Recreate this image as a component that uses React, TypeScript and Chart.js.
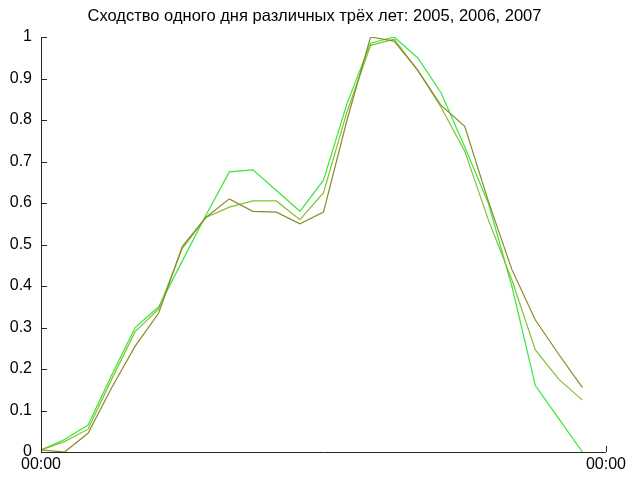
import React, { useEffect, useRef } from 'react';
import { Chart, registerables } from 'chart.js';

Chart.register(...registerables);

const TITLE = 'Сходство одного дня различных трёх лет: 2005, 2006, 2007';
const X_TICK_LABEL = '00:00';
const hours = [0, 1, 2, 3, 4, 5, 6, 7, 8, 9, 10, 11, 12, 13, 14, 15, 16, 17, 18, 19, 20, 21, 22, 23];
const xTicks = [0, 24];
const seriesNames = ['2005', '2006', '2007'];
const olive = [0.005, 0.0, 0.045, 0.155, 0.255, 0.335, 0.495, 0.565, 0.61, 0.58, 0.578, 0.55, 0.578, 0.8, 1.0, 0.99, 0.92, 0.835, 0.785, 0.605, 0.44, 0.318, 0.235, 0.155];
const medium = [0.005, 0.025, 0.055, 0.175, 0.29, 0.345, 0.49, 0.565, 0.59, 0.605, 0.605, 0.56, 0.625, 0.82, 0.98, 0.995, 0.92, 0.83, 0.725, 0.56, 0.415, 0.246, 0.175, 0.125];
const bright = [0.005, 0.03, 0.065, 0.185, 0.3, 0.35, 0.46, 0.57, 0.675, 0.68, 0.63, 0.58, 0.655, 0.84, 0.985, 1.0, 0.95, 0.865, 0.735, 0.6, 0.4, 0.16, 0.08, 0.0];

const FONT = '"Liberation Sans", Arial, sans-serif';

const titlePlugin = {
  id: 'matlabTitle',
  afterDraw(chart: any) {
    const { ctx, chartArea } = chart;
    ctx.save();
    ctx.fillStyle = '#000';
    ctx.font = '16.5px ' + FONT;
    ctx.textAlign = 'center';
    ctx.textBaseline = 'middle';
    ctx.fillText(TITLE, (chartArea.left + chartArea.right) / 2 - 9, 16);
    ctx.restore();
  },
};

const inwardTicks = {
  id: 'inwardTicks',
  afterDraw(chart: any) {
    const { ctx, chartArea, scales } = chart;
    ctx.save();
    ctx.strokeStyle = '#262626';
    ctx.lineWidth = 1;
    ctx.beginPath();
    scales.y.ticks.forEach((t: any) => {
      const y = Math.round(scales.y.getPixelForValue(t.value)) + 0.5;
      ctx.moveTo(chartArea.left, y);
      ctx.lineTo(chartArea.left + 6, y);
    });
    scales.x.ticks.forEach((t: any) => {
      const x = Math.round(scales.x.getPixelForValue(t.value)) + 0.5;
      ctx.moveTo(x, chartArea.bottom);
      ctx.lineTo(x, chartArea.bottom - 6);
    });
    ctx.stroke();
    ctx.restore();
  },
};

export default function App() {
  const ref = useRef<HTMLCanvasElement | null>(null);
  useEffect(() => {
    if (!ref.current) return;
    const mk = (label: string, data: number[], color: string) => ({
      label,
      data: hours.map((h, i) => ({ x: h, y: data[i] })),
      borderColor: color,
      backgroundColor: color,
      borderWidth: 1.2,
      pointRadius: 0,
      tension: 0,
      fill: false,
    });
    const chart = new Chart(ref.current, {
      type: 'line',
      data: {
        datasets: [
          mk(seriesNames[0], olive, '#8a8a28'),
          mk(seriesNames[1], medium, '#82c032'),
          mk(seriesNames[2], bright, '#38e838'),
        ],
      },
      options: {
        animation: false,
        responsive: false,
        maintainAspectRatio: false,
        layout: { padding: { top: 37, right: 21, bottom: 0, left: 0 } },
        plugins: { legend: { display: false }, title: { display: false }, tooltip: { enabled: false } },
        scales: {
          x: {
            type: 'linear',
            min: 0,
            max: 24,
            afterBuildTicks: (s: any) => { s.ticks = xTicks.map((v) => ({ value: v })); },
            afterFit: (s: any) => { s.height = 25; },
            grid: { display: false, drawTicks: false },
            border: { display: true, color: '#262626', width: 1 },
            ticks: {
              padding: 3,
              color: '#000',
              font: { family: FONT, size: 16 },
              maxRotation: 0,
              autoSkip: false,
              callback: () => X_TICK_LABEL,
            },
          },
          y: {
            type: 'linear',
            min: 0,
            max: 1,
            afterFit: (s: any) => { s.width = 41; },
            grid: { display: false, drawTicks: false },
            border: { display: true, color: '#262626', width: 1 },
            ticks: {
              stepSize: 0.1,
              padding: 9,
              color: '#000',
              font: { family: FONT, size: 16 },
              callback: (v: any) => String(Math.round(Number(v) * 10) / 10),
            },
          },
        },
      },
      plugins: [titlePlugin, inwardTicks],
    });
    return () => chart.destroy();
  }, []);
  return (
    <div style={{ position: 'fixed', left: 0, top: 0, width: 629, height: 477, background: '#fff' }}>
      <canvas ref={ref} width={629} height={477} style={{ width: 629, height: 477 }} />
    </div>
  );
}
